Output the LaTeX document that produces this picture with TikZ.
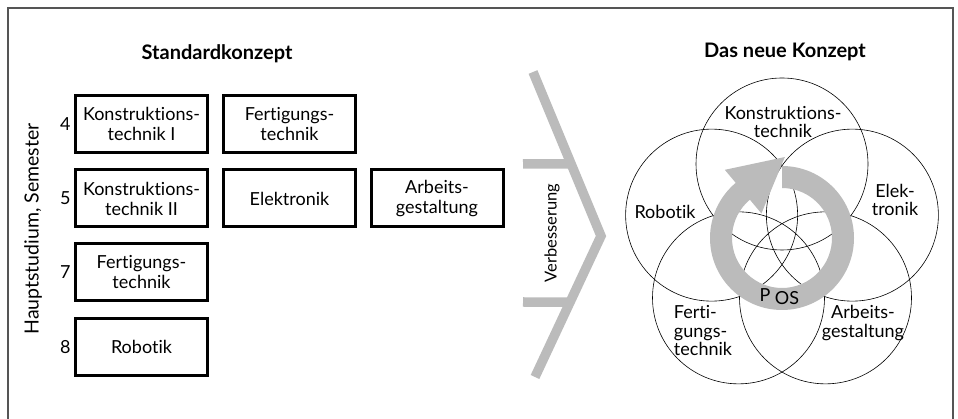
\documentclass[tikz,border=0pt]{standalone}
\usepackage{fontspec}
\setmainfont{Lato}[Ligatures=NoCommon]
\usepackage{tikz}
\usetikzlibrary{calc, positioning}
\definecolor{ringgray}{RGB}{187,187,187}
\definecolor{framegray}{RGB}{85,85,85}

\begin{document}
\begin{tikzpicture}[x=1pt, y=1pt,
    fach/.style={draw, line width=3pt, minimum width=132pt, minimum height=57pt,
                 align=center, font=\fontsize{18}{20}\selectfont},
    sem/.style={font=\fontsize{18}{20}\selectfont},
    kreis/.style={draw, circle, line width=0.6pt, minimum size=172pt, inner sep=0pt},
    ktext/.style={align=center, inner sep=1pt, font=\fontsize{18}{18.5}\selectfont},
    titel/.style={font=\bfseries\fontsize{20}{22}\selectfont},
    balken/.style={draw=ringgray, line width=9.5pt}]
\useasboundingbox (0,0) rectangle (958,419);
\draw[framegray, line width=1.2pt] (8,-2) -- (8,411) -- (953,411) -- (953,-2);

% Standardkonzept
\node[titel] (t1) at (217,365) {Standardkonzept};
\node[fach] (k1) at (141.5,295) {Konstruktions-\\technik I};
\node[fach] (f1) at (289.5,295) {Fertigungs-\\technik};
\node[fach] (k2) at (141.5,220.5) {Konstruktions-\\technik II};
\node[fach] (e1) at (289.5,220.5) {Elektronik};
\node[fach] (a1) at (437,220.5) {Arbeits-\\gestaltung};
\node[fach] (f2) at (141.5,147) {Fertigungs-\\technik};
\node[fach] (r1) at (141.5,72) {Robotik};
%
\node[sem, left=0pt of k1] (s4) {4};
\node[sem, left=0pt of k2] (s5) {5};
\node[sem, left=0pt of f2] (s7) {7};
\node[sem, left=0pt of r1] (s8) {8};
\node[rotate=90, font=\fontsize{19.5}{20}\selectfont] (hs) at (33,190) {Hauptstudium, Semester};

% Verbesserung
\coordinate (ch1) at (533,347);
\coordinate (ch2) at (601,183);
\coordinate (ch3) at (535,42);
\draw[balken] (ch1) -- (ch2) -- (ch3);
\draw[balken] (523,255) -- ($(ch1)!0.56!(ch2)$);
\draw[balken] (523,117) -- ($(ch2)!0.47!(ch3)$);
\node[rotate=90, font=\fontsize{16.5}{18}\selectfont] (vb) at (552,186) {Verbesserung};

% Das neue Konzept
\node[titel] (t2) at (785,367) {Das neue Konzept};
\coordinate (m) at (782,181);
\node[kreis] (c1) at ($(m)+(90:74)$) {};
\node[kreis] (c2) at ($(m)+(162:74)$) {};
\node[kreis] (c3) at ($(m)+(234:74)$) {};
\node[kreis] (c4) at ($(m)+(306:74)$) {};
\node[kreis] (c5) at ($(m)+(18:74)$) {};
%
\fill[ringgray] ([shift={(m)}]90:72) arc[start angle=90, end angle=-230, radius=72]
  -- ([shift={(m)}]130:89) -- ([shift={(m)}]88:81) -- ([shift={(m)}]130:32)
  -- ([shift={(m)}]130:50) arc[start angle=-230, end angle=90, radius=50] -- cycle;
%
\node[ktext] (l1) at (783,297) {Konstruktions-\\technik};
\node[ktext] (l2) at (665,207) {Robotik};
\node[ktext] (l5) at (895,219) {Elek-\\tronik};
\node[ktext, align=left] (l3) at (703,88) {Ferti-\\gungs-\\technik};
\node[ktext] (l4) at (863,96) {Arbeits-\\gestaltung};
\node[sem, inner sep=0pt] (os) at (787,121) {OS};
\node[sem, inner sep=0pt, left=4pt of os, yshift=3pt] (pp) {P};
\end{tikzpicture}
\end{document}
